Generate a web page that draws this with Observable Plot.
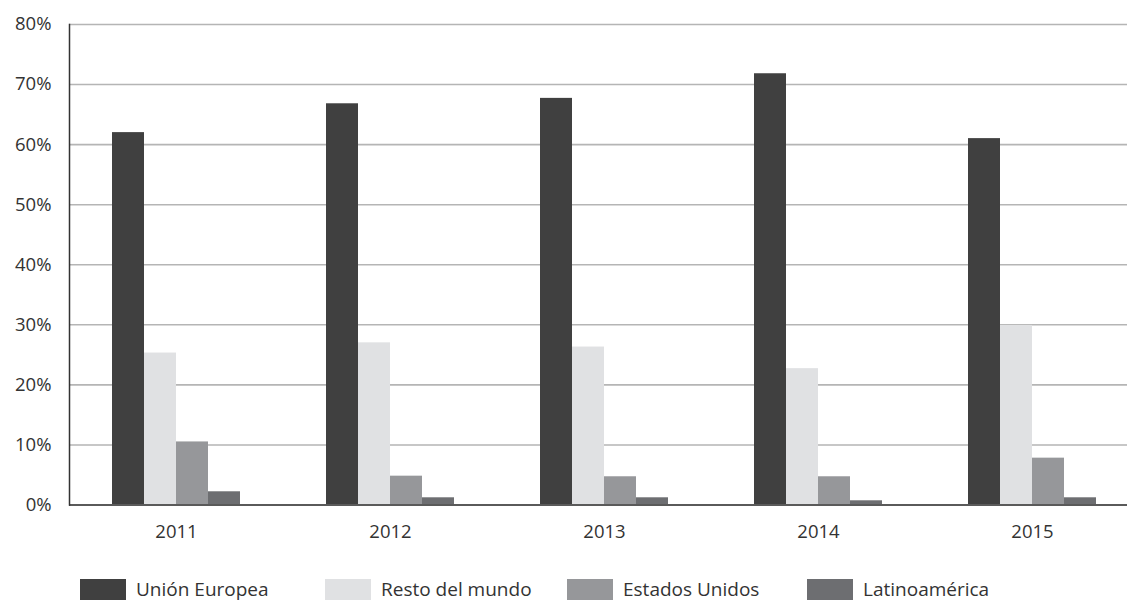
<!DOCTYPE html>
<html>
<head>
<meta charset="utf-8">
<script src="https://cdn.jsdelivr.net/npm/d3@7"></script>
<script src="https://cdn.jsdelivr.net/npm/@observablehq/plot@0.6"></script>
<style>
  html, body { margin: 0; padding: 0; background: #fff; overflow: hidden; }
  #chart { position: relative; width: 1127px; height: 601px; }
  .legend { position: relative; height: 30px; margin-top: 13px; font-family: "Open Sans", sans-serif; font-size: 19px; line-height: 22px; color: #333; }
  .item { position: absolute; top: 0; display: flex; align-items: center; white-space: nowrap; }
  .sw { width: 46px; height: 21px; margin-right: 10px; }
</style>
</head>
<body>
<div id="chart"></div>
<script>
const years = ["2011", "2012", "2013", "2014", "2015"];
const series = ["Unión Europea", "Resto del mundo", "Estados Unidos", "Latinoamérica"];
const colors = ["#404040", "#e0e1e3", "#96979a", "#6d6e71"];
const unionEuropea = [62.0, 66.8, 67.7, 71.8, 61.0];
const restoMundo = [25.3, 27.0, 26.3, 22.7, 29.9];
const estadosUnidos = [10.5, 4.8, 4.7, 4.7, 7.8];
const latinoamerica = [2.2, 1.2, 1.2, 0.7, 1.2];
const yTicks = [0, 0.1, 0.2, 0.3, 0.4, 0.5, 0.6, 0.7, 0.8];

const valueArrays = [unionEuropea, restoMundo, estadosUnidos, latinoamerica];
const data = [];
years.forEach((yr, i) => {
  series.forEach((s, j) => data.push({year: yr, series: s, value: valueArrays[j][i] / 100}));
});

const plot = Plot.plot({
  width: 1127,
  height: 565,
  marginLeft: 68,
  marginRight: 0,
  marginTop: 24,
  marginBottom: 60.5,
  style: {fontFamily: "'Open Sans', sans-serif", fontSize: "18.5px", color: "#333", background: "#fff"},
  fx: {domain: years, range: [68.5, 1138.5], padding: 0, label: null},
  x: {domain: series, paddingInner: 0, paddingOuter: 1.32, axis: null},
  y: {domain: [0, 0.8], label: null},
  color: {domain: series, range: colors},
  marks: [
    Plot.gridY(yTicks, {stroke: "#b5b5b5", strokeOpacity: 1, strokeWidth: 1.6}),
    Plot.barY(data, {fx: "year", x: "series", y: "value", fill: "series"}),
    Plot.ruleY([0], {stroke: "#5a5a5a", strokeWidth: 2}),
    Plot.frame({anchor: "left", facetAnchor: "left", stroke: "#333", strokeWidth: 1.5}),
    Plot.axisY(yTicks, {tickFormat: d3.format(".0%"), tickSize: 0, tickPadding: 18, fill: "#333", label: null}),
    Plot.axisFx({anchor: "bottom", tickSize: 0, tickPadding: 20, fill: "#333", label: null})
  ]
});

const root = document.getElementById("chart");
root.appendChild(plot);

const legend = document.createElement("div");
legend.className = "legend";
const lefts = [80, 325, 567, 807];
series.forEach((s, i) => {
  const it = document.createElement("div");
  it.className = "item";
  it.style.left = lefts[i] + "px";
  const sw = document.createElement("div");
  sw.className = "sw";
  sw.style.background = colors[i];
  const t = document.createElement("span");
  t.textContent = s;
  it.appendChild(sw);
  it.appendChild(t);
  legend.appendChild(it);
});
root.appendChild(legend);
</script>
</body>
</html>
